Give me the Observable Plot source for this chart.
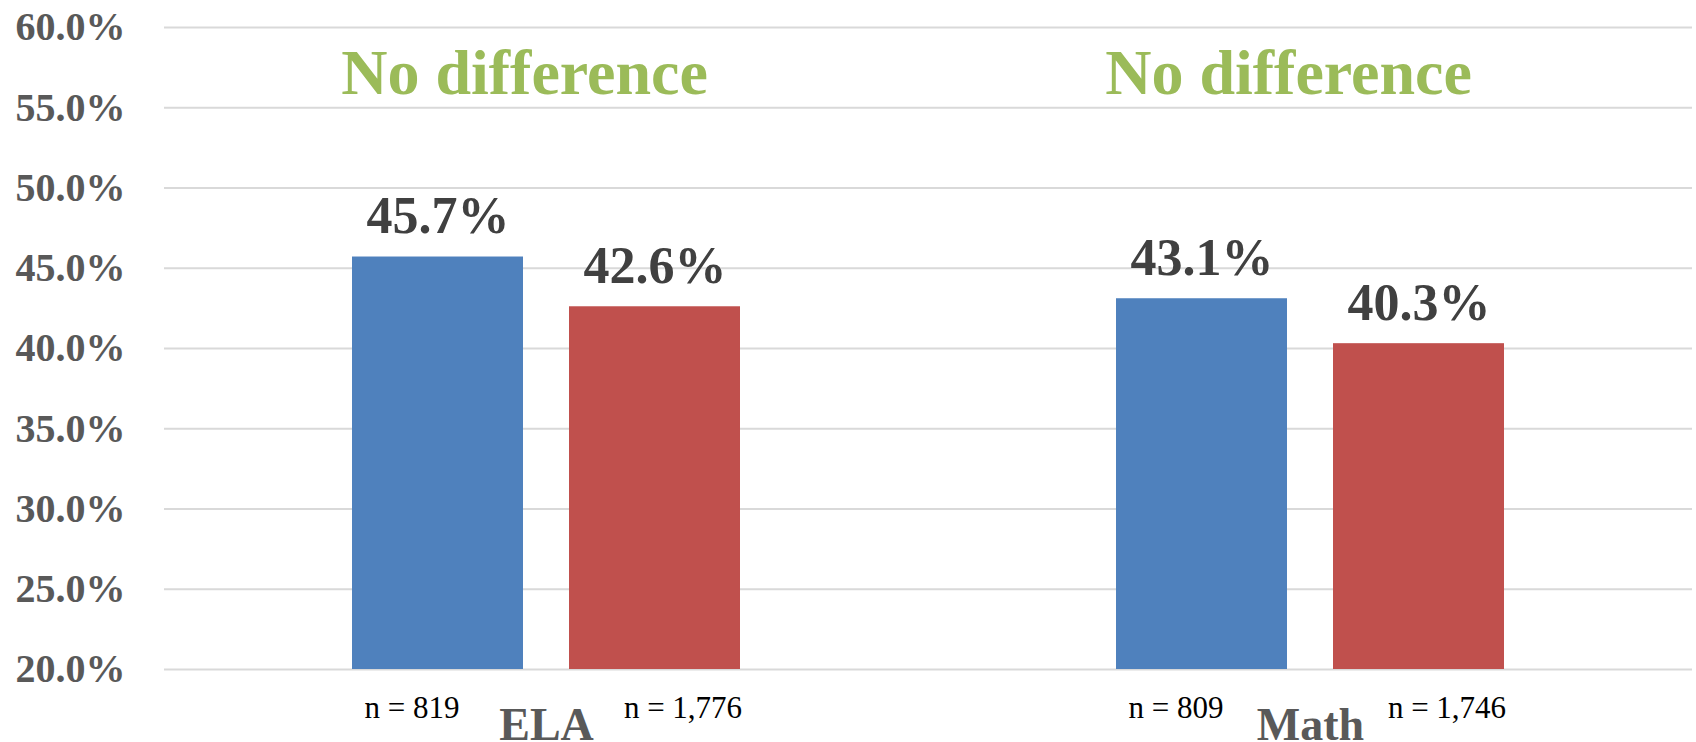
<!DOCTYPE html>
<html>
<head>
<meta charset="utf-8">
<script src="https://cdn.jsdelivr.net/npm/d3@7"></script>
<script src="https://cdn.jsdelivr.net/npm/@observablehq/plot@0.6"></script>
<style>
  html, body { margin: 0; padding: 0; background: #fff; }
  #chart svg { display: block; }
</style>
</head>
<body>
<div id="chart"></div>
<script>
const subjects = ["ELA", "Math"];
const groups = ["Group 1", "Group 2"];
const values = { "ELA": [45.7, 42.6], "Math": [43.1, 40.3] };
const counts = { "ELA": [819, 1776], "Math": [809, 1746] };
const annotations = ["No difference", "No difference"];
const yTicks = [20, 25, 30, 35, 40, 45, 50, 55, 60];

const rows = [];
subjects.forEach(s => groups.forEach((g, i) => rows.push({
  subject: s, group: g, value: values[s][i], n: counts[s][i]
})));
const notes = subjects.map((s, i) => ({ subject: s, note: annotations[i] }));
const fmtN = d3.format(",");

const chart = Plot.plot({
  width: 1696,
  height: 742,
  marginTop: 27,
  marginBottom: 73,
  marginLeft: 163,
  marginRight: 4,
  style: { fontFamily: "'Liberation Serif', 'Times New Roman', serif", background: "#fff" },
  fx: { domain: subjects, padding: 0, axis: null },
  x: { domain: groups, paddingInner: 0.211, paddingOuter: 0.859, axis: null },
  y: { domain: [20, 60], axis: null },
  color: { domain: groups, range: ["#4f81bd", "#c0504d"] },
  marks: [
    Plot.gridY(yTicks, { stroke: "#d9d9d9", strokeOpacity: 1, strokeWidth: 2 }),
    Plot.axisY(yTicks, {
      label: null, tickSize: 0, tickPadding: 39, tickFormat: d => d.toFixed(1) + "%",
      fontSize: 40, fontWeight: "bold", fill: "#595959"
    }),
    Plot.barY(rows, { fx: "subject", x: "group", y1: 20, y2: "value", fill: "group" }),
    Plot.text(rows, {
      fx: "subject", x: "group", y: "value", text: d => d.value.toFixed(1) + "%",
      lineAnchor: "bottom", dy: -24, fontSize: 52, fontWeight: "bold", fill: "#404040"
    }),
    Plot.text(notes, {
      fx: "subject", text: "note", frameAnchor: "top", lineAnchor: "bottom",
      dy: 66, dx: -22, fontSize: 64, fontWeight: "bold", fill: "#9bbb59"
    }),
    Plot.text(rows.filter(d => d.group === groups[0]), {
      fx: "subject", x: "group", text: d => "n = " + fmtN(d.n), frameAnchor: "bottom",
      lineAnchor: "bottom", dy: 48, dx: -26, fontSize: 31, fill: "#000"
    }),
    Plot.text(rows.filter(d => d.group === groups[1]), {
      fx: "subject", x: "group", text: d => "n = " + fmtN(d.n), frameAnchor: "bottom",
      lineAnchor: "bottom", dy: 48, dx: 28, fontSize: 31, fill: "#000"
    }),
    Plot.text(subjects, {
      fx: d => d, text: d => d, frameAnchor: "bottom", lineAnchor: "bottom",
      dy: 70, fontSize: 46, fontWeight: "bold", fill: "#595959"
    })
  ]
});
document.getElementById("chart").appendChild(chart);
</script>
</body>
</html>
